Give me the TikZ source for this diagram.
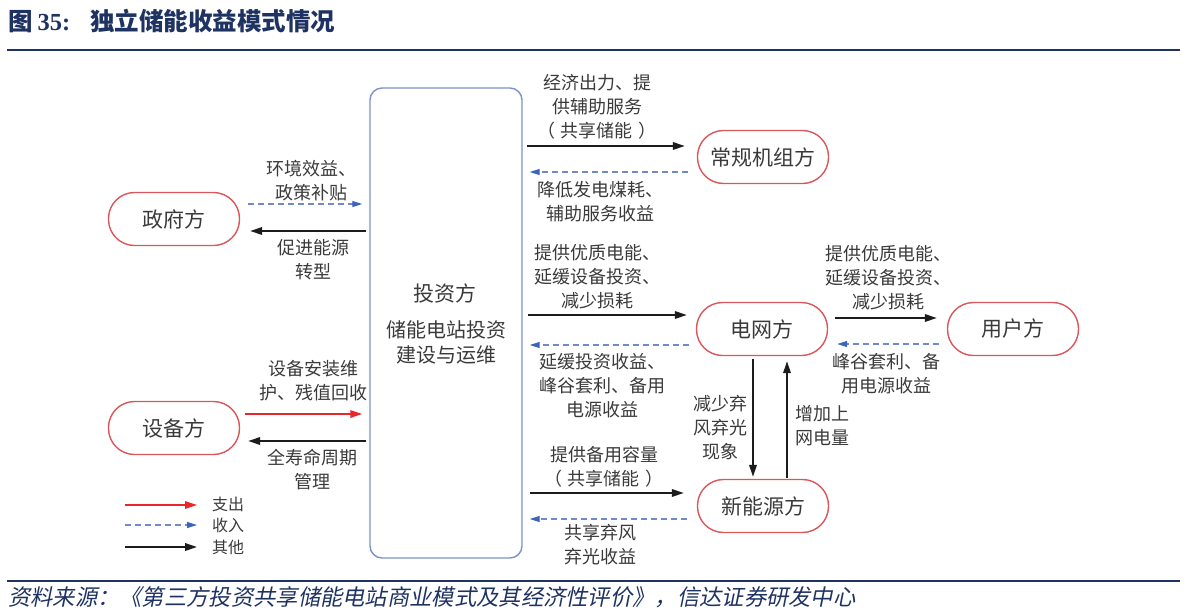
\documentclass[tikz,border=0pt]{standalone}
\usepackage{fontspec}
\setmainfont{Noto Sans CJK SC}
\newfontfamily\cjkit[FakeSlant=0.2]{Noto Sans CJK SC}
\newfontfamily\tnr{Liberation Serif}
\usetikzlibrary{arrows.meta}
\definecolor{navy}{HTML}{1F3363}
\definecolor{txt}{HTML}{3A3A3A}
\definecolor{pillred}{HTML}{D9565A}
\definecolor{boxblue}{HTML}{7D92C8}
\definecolor{incblue}{HTML}{6E8ACB}
\definecolor{headblue}{HTML}{3C64BC}
\definecolor{expred}{HTML}{E8262B}
\definecolor{othblack}{HTML}{1C1C1C}
\begin{document}
\begin{tikzpicture}[x=1pt,y=-1pt,
  pill/.style={draw=pillred, line width=1.4pt, rounded corners=26pt, minimum width=131pt, minimum height=53pt, inner sep=0pt, text=txt, font=\fontsize{21}{24}\selectfont},
  invbox/.style={draw=boxblue, line width=1.4pt, rounded corners=12pt, minimum width=152pt, minimum height=470pt, inner sep=0pt},
  lbl/.style={text=txt, align=center, inner sep=0pt, font=\fontsize{18}{24}\selectfont},
  lg/.style={text=txt, anchor=west, inner sep=0pt, font=\fontsize{16}{18}\selectfont},
  oth/.style={draw=othblack, line width=1.9pt, -{Triangle[length=12pt,width=7.5pt]}},
  exp/.style={draw=expred, line width=1.6pt, -{Triangle[length=12pt,width=7.5pt]}},
  inc/.style={draw=incblue, line width=1.2pt, dash pattern=on 6pt off 4pt, -{Triangle[length=10pt,width=6pt,color=headblue]}},
  thickrule/.style={draw=navy, line width=2.6pt},
  thinrule/.style={draw=navy, line width=1.2pt}
]
\useasboundingbox (0,0) rectangle (1187,614);

% title and rules
\node[anchor=west, inner sep=0pt, text=navy, font=\fontsize{24.5}{26}\selectfont\bfseries] (title) at (8,21)
  {图\hspace{5pt}{\tnr\bfseries 35:}\hspace{20pt}独立储能收益模式情况};
\draw[thickrule] (7,50) -- (55,50);
\draw[thinrule] (55,50) -- (1131,50);
\draw[thickrule] (1131,50) -- (1180,50);
\draw[thickrule] (7,581) -- (55,581);
\draw[thinrule] (55,581) -- (1131,581);
\draw[thickrule] (1131,581) -- (1180,581);
\node[anchor=west, inner sep=0pt, text=navy, font=\fontsize{22.3}{24}\selectfont\cjkit] (src) at (8,597)
  {资料来源：《第三方投资共享储能电站商业模式及其经济性评价》，信达证券研发中心};

% central box
\node[invbox] (inv) at (446,323) {};
\node[text=txt, inner sep=0pt, font=\fontsize{21}{24}\selectfont] (invt) at (445,293) {投资方};
\node[lbl, font=\fontsize{20}{25}\selectfont] (invd) at (446,342) {储能电站投资\\建设与运维};

% parties
\node[pill] (gov) at (174,219) {政府方};
\node[pill] (equ) at (174,428) {设备方};
\node[pill] (conv) at (763,157) {常规机组方};
\node[pill] (grid) at (762,329) {电网方};
\node[pill] (user) at (1013,329) {用户方};
\node[pill] (newe) at (763,506) {新能源方};

% left connectors
\coordinate (a1) at ([shift={(8,-15)}]gov.east);
\draw[inc, shorten >=7pt] (a1) -- (a1 -| inv.west);
\coordinate (a2) at ([shift={(10,12)}]gov.east);
\draw[oth, shorten <=3pt] (a2 -| inv.west) -- (a2);
\coordinate (b1) at ([shift={(5,-14)}]equ.east);
\draw[exp, shorten >=7pt] (b1) -- (b1 -| inv.west);
\coordinate (b2) at ([shift={(8,13)}]equ.east);
\draw[oth, shorten <=3pt] (b2 -| inv.west) -- (b2);

% right connectors
\coordinate (c1) at ([shift={(-12,-11)}]conv.west);
\draw[oth, shorten <=4pt] (c1 -| inv.east) -- (c1);
\coordinate (c2) at ([shift={(-9,15)}]conv.west);
\draw[inc, shorten >=7pt] (c2) -- (c2 -| inv.east);
\coordinate (d1) at ([shift={(-9,-14)}]grid.west);
\draw[oth, shorten <=5pt] (d1 -| inv.east) -- (d1);
\coordinate (d2) at ([shift={(-7,16)}]grid.west);
\draw[inc, shorten >=7pt] (d2) -- (d2 -| inv.east);
\coordinate (e1) at ([shift={(-13,-13)}]newe.west);
\draw[oth, shorten <=7pt] (e1 -| inv.east) -- (e1);
\coordinate (e2) at ([shift={(-10,13)}]newe.west);
\draw[inc, shorten >=7pt] (e2) -- (e2 -| inv.east);

% grid <-> user
\coordinate (f1) at ([shift={(7,-11)}]grid.east);
\draw[oth, shorten >=10pt] (f1) -- (f1 -| user.west);
\coordinate (f2) at ([shift={(9,15)}]grid.east);
\draw[inc, shorten <=8pt] (f2 -| user.west) -- (f2);

% grid <-> new energy
\draw[oth, shorten <=3pt, shorten >=2pt] ([xshift=-9pt]grid.south) -- ([xshift=-9pt]grid.south |- newe.north);
\draw[oth, shorten <=1pt, shorten >=5pt] ([xshift=25pt]grid.south |- newe.north) -- ([xshift=25pt]grid.south);

% labels
\node[lbl] (l1) at (311,181) {环境效益、\\政策补贴};
\node[lbl] (l2) at (313,260) {促进能源\\转型};
\node[lbl] (l3) at (313,381) {设备安装维\\护、残值回收};
\node[lbl] (l4) at (312,470) {全寿命周期\\管理};
\node[lbl] (r1) at (597,107) {经济出力、提\\供辅助服务\\（\hspace{6pt}共享储能\hspace{6pt}）};
\node[lbl] (r2) at (600,202) {降低发电煤耗、\\辅助服务收益};
\node[lbl] (r3) at (597,277) {提供优质电能、\\延缓设备投资、\\减少损耗};
\node[lbl] (r4) at (602,386) {延缓投资收益、\\峰谷套利、备用\\电源收益};
\node[lbl] (r5) at (604,467) {提供备用容量\\（\hspace{6pt}共享储能\hspace{6pt}）};
\node[lbl] (r6) at (600,545) {共享弃风\\弃光收益};
\node[lbl] (u1) at (888,278) {提供优质电能、\\延缓设备投资、\\减少损耗};
\node[lbl] (u2) at (886,374) {峰谷套利、备\\用电源收益};
\node[lbl] (v1) at (720,428) {减少弃\\风弃光\\现象};
\node[lbl] (v2) at (822,426) {增加上\\网电量};

% legend
\coordinate (k1s) at (125,505); \coordinate (k1e) at (197,505);
\coordinate (k2s) at (125,525); \coordinate (k2e) at (197,525);
\coordinate (k3s) at (125,547); \coordinate (k3e) at (197,547);
\draw[exp] (k1s) -- (k1e);
\draw[inc] (k2s) -- (k2e);
\draw[oth] (k3s) -- (k3e);
\node[lg] (k1) at (212,504) {支出};
\node[lg] (k2) at (212,525) {收入};
\node[lg] (k3) at (212,547) {其他};
\end{tikzpicture}
\end{document}
